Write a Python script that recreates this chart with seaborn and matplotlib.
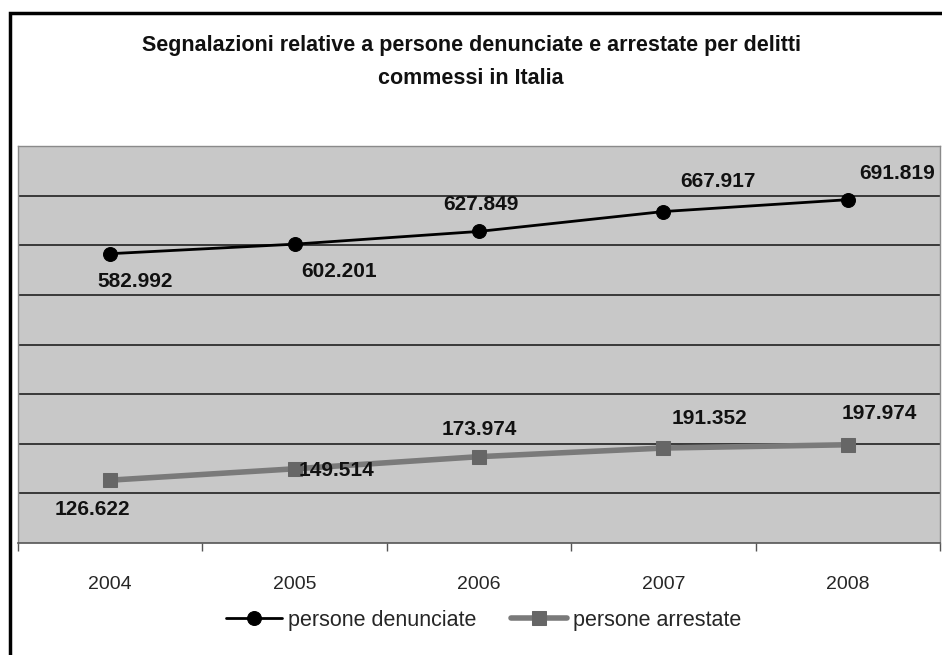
import matplotlib
matplotlib.use('Agg')
import matplotlib.pyplot as plt
import seaborn as sns
import pandas as pd
from matplotlib.patches import Rectangle

# ── Dati ──────────────────────────────────────────────────────────────────────
anni        = ['2004', '2005', '2006', '2007', '2008']
denunciate  = [582992, 602201, 627849, 667917, 691819]
arrestate   = [126622, 149514, 173974, 191352, 197974]
etichette_d = ['582.992', '602.201', '627.849', '667.917', '691.819']
etichette_a = ['126.622', '149.514', '173.974', '191.352', '197.974']

titolo = 'Segnalazioni relative a persone denunciate e arrestate per delitti\ncommessi in Italia'

# offset (pixel) delle etichette rispetto al punto
off_d = [(25, -28), (44, -27), (2, 27), (55, 30), (49, 26)]
off_a = [(-18, -29), (42, -2), (0, 27), (46, 30), (32, 31)]

# ── Stile ─────────────────────────────────────────────────────────────────────
sns.set_style('white')
plt.rcParams['font.family'] = ['Liberation Sans Narrow', 'Liberation Sans', 'DejaVu Sans']

df = pd.DataFrame({'anno': anni, 'denunciate': denunciate, 'arrestate': arrestate})

fig = plt.figure(figsize=(9.42, 6.55), dpi=100)
ax = fig.add_axes([18/942, 112/655, 922/942, 397/655])

# cornice della figura
fig.patches.append(Rectangle((10/942, -0.1), 1.2, (655-13)/655 + 0.1,
                             transform=fig.transFigure, fill=False,
                             edgecolor='black', linewidth=2.5, zorder=0))

ax.set_facecolor('#c8c8c8')
for y in range(100000, 800000, 100000):
    ax.axhline(y, color='#2e2e2e', linewidth=1.3, zorder=1)

sns.lineplot(data=df, x='anno', y='denunciate', ax=ax, color='black',
             linewidth=2, marker='o', markersize=10, markeredgecolor='black',
             label='persone denunciate', zorder=3)
sns.lineplot(data=df, x='anno', y='arrestate', ax=ax, color='#7a7a7a',
             linewidth=4, marker='s', markersize=10, markerfacecolor='#666666',
             markeredgecolor='#666666', label='persone arrestate', zorder=3)

for i, (v, t) in enumerate(zip(denunciate, etichette_d)):
    ax.annotate(t, (i, v), xytext=off_d[i], textcoords='offset pixels',
                ha='center', va='center', fontsize=15, fontweight='bold',
                color='#111111', zorder=4)
for i, (v, t) in enumerate(zip(arrestate, etichette_a)):
    ax.annotate(t, (i, v), xytext=off_a[i], textcoords='offset pixels',
                ha='center', va='center', fontsize=15, fontweight='bold',
                color='#111111', zorder=4)

ax.set_xlim(-0.5, 4.5)
ax.set_ylim(0, 800000)
ax.set_yticks([])
ax.set_xlabel('')
ax.set_ylabel('')
ax.set_xticks(range(len(anni)))
ax.set_xticklabels(anni, fontsize=14)
ax.set_xticks([i - 0.5 for i in range(len(anni) + 1)], minor=True)
ax.tick_params(axis='x', which='major', length=0, pad=24)
ax.tick_params(axis='x', which='minor', length=6, width=1, color='#555555',
               direction='out', bottom=True)

for s in ['top', 'left', 'right']:
    ax.spines[s].set_color('#8a8a8a')
    ax.spines[s].set_linewidth(1)
ax.spines['bottom'].set_color('#555555')
ax.spines['bottom'].set_linewidth(1.2)

fig.text(0.5, 1 - 62/655, titolo, ha='center', va='center', fontsize=15.5,
         fontweight='bold', color='#111111', linespacing=1.75)

leg = ax.legend(loc='center', bbox_to_anchor=(0.505, -0.195), ncol=2,
                frameon=False, fontsize=15.5, handlelength=2.6,
                handletextpad=0.3, columnspacing=1.6)

fig.savefig('out.png', dpi=100)
